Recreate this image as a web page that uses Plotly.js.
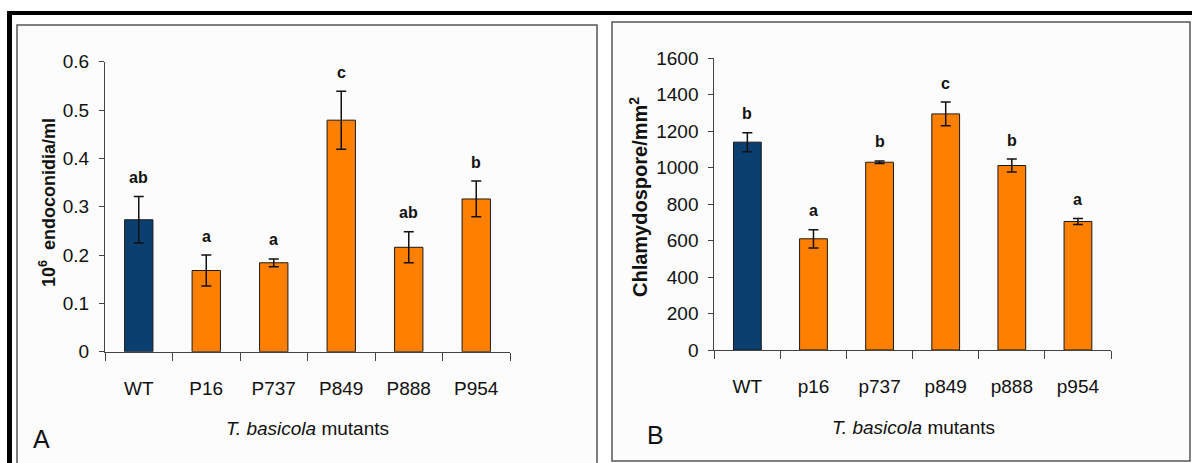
<!DOCTYPE html>
<html>
<head>
<meta charset="utf-8">
<script src="https://cdn.plot.ly/plotly-3.0.1.min.js"></script>
<style>
  html, body { margin: 0; padding: 0; background: #ffffff; }
  #chart { width: 1192px; height: 463px; }
</style>
</head>
<body>
<div id="chart"></div>
<script>
// Panel A: endoconidia production
const strainsA = ['WT', 'P16', 'P737', 'P849', 'P888', 'P954'];
const endoconidia = [0.273, 0.168, 0.184, 0.479, 0.216, 0.316];
const endoconidiaErr = [0.048, 0.032, 0.008, 0.060, 0.032, 0.037];
const lettersA = ['ab', 'a', 'a', 'c', 'ab', 'b'];

// Panel B: chlamydospore production
const strainsB = ['WT', 'p16', 'p737', 'p849', 'p888', 'p954'];
const chlamydospores = [1140, 610, 1030, 1295, 1012, 705];
const chlamydosporesErr = [52, 50, 7, 65, 35, 16];
const lettersB = ['b', 'a', 'b', 'c', 'b', 'a'];

const W = 1192, H = 463;
const px = x => x / W;
const py = y => 1 - y / H;

const FONT = '"Liberation Sans", Arial, sans-serif';
const BLUE = '#0b3f70';
const ORANGE = '#ff7f00';
const barColors = names => names.map(n => n === 'WT' ? BLUE : ORANGE);

function barTrace(x, y, err, xa, ya) {
  return {
    type: 'bar', x: x, y: y, xaxis: xa, yaxis: ya,
    marker: { color: barColors(x), line: { color: '#1a1a1a', width: 1 } },
    error_y: { type: 'data', array: err, visible: true, color: '#111111', thickness: 1.5, width: 5 },
    hoverinfo: 'x+y', showlegend: false
  };
}

const traces = [
  barTrace(strainsA, endoconidia, endoconidiaErr, 'x', 'y'),
  barTrace(strainsB, chlamydospores, chlamydosporesErr, 'x2', 'y2')
];

const xCommon = {
  type: 'category', showline: true, linecolor: '#444', linewidth: 1,
  ticks: 'outside', tickson: 'boundaries', ticklen: 8, tickcolor: '#444',
  ticklabelstandoff: 19, showgrid: false, zeroline: false, fixedrange: true,
  tickfont: { family: FONT, size: 19, color: '#111' }
};
const yCommon = {
  showline: true, linecolor: '#444', linewidth: 1,
  ticks: 'outside', ticklen: 5, tickcolor: '#444', ticklabelstandoff: 6,
  showgrid: false, zeroline: false, fixedrange: true,
  tickfont: { family: FONT, size: 19, color: '#111' }
};

function letterNotes(x, y, err, letters, xref, yref) {
  return x.map((c, i) => ({
    x: c, y: y[i] + err[i], xref: xref, yref: yref,
    text: '<b>' + letters[i] + '</b>', showarrow: false,
    xanchor: 'center', yanchor: 'middle', yshift: 19,
    font: { family: FONT, size: 16, color: '#111' }
  }));
}

// free-standing text placed in paper space, centred on the given pixel
function paperNote(x, y, text, size, angle) {
  return {
    xref: 'paper', yref: 'paper', x: px(x), y: py(y), text: text,
    textangle: angle || 0, showarrow: false, xanchor: 'center', yanchor: 'middle',
    font: { family: FONT, size: size, color: '#111' }
  };
}

const annotations = [
  ...letterNotes(strainsA, endoconidia, endoconidiaErr, lettersA, 'x', 'y'),
  ...letterNotes(strainsB, chlamydospores, chlamydosporesErr, lettersB, 'x2', 'y2'),
  paperNote(47, 203, '<b>10<sup>6</sup>  endoconidia/ml</b>', 18, -90),
  paperNote(639, 197, '<b>Chlamydospore/mm<sup>2</sup></b>', 20, -90),
  paperNote(307, 428, '<i>T. basicola</i> mutants', 19),
  paperNote(913, 427, '<i>T. basicola</i> mutants', 19),
  paperNote(41, 439, 'A', 25),
  paperNote(655, 435, 'B', 25)
];

const shapes = [
  // panel frames
  { type: 'rect', xref: 'paper', yref: 'paper', layer: 'below',
    x0: px(17), y0: py(470), x1: px(597), y1: py(25),
    line: { color: '#555', width: 1.5 }, fillcolor: '#fcfcfc' },
  { type: 'rect', xref: 'paper', yref: 'paper', layer: 'below',
    x0: px(612), y0: py(461), x1: px(1190), y1: py(22),
    line: { color: '#555', width: 1.5 }, fillcolor: '#fcfcfc' },
  // heavy outer rule
  { type: 'line', xref: 'paper', yref: 'paper',
    x0: px(7), y0: py(13), x1: px(1195), y1: py(13), line: { color: '#000', width: 4 } },
  { type: 'line', xref: 'paper', yref: 'paper',
    x0: px(9.5), y0: py(11), x1: px(9.5), y1: py(470), line: { color: '#000', width: 5 } }
];

const layout = {
  width: W, height: H,
  margin: { l: 0, r: 0, t: 0, b: 0 },
  paper_bgcolor: '#ffffff', plot_bgcolor: 'rgba(0,0,0,0)',
  bargap: 0.58, showlegend: false,
  font: { family: FONT, color: '#111' },
  xaxis: Object.assign({}, xCommon, { domain: [px(105), px(510)], anchor: 'y' }),
  yaxis: Object.assign({}, yCommon, { domain: [py(351.7), py(61.7)], range: [0, 0.6], dtick: 0.1, anchor: 'x' }),
  xaxis2: Object.assign({}, xCommon, { domain: [px(714.3), px(1111)], anchor: 'y2' }),
  yaxis2: Object.assign({}, yCommon, { domain: [py(350), py(58.3)], range: [0, 1600], dtick: 200, anchor: 'x2' }),
  annotations: annotations,
  shapes: shapes
};

Plotly.newPlot('chart', traces, layout, { staticPlot: true, displayModeBar: false });
</script>
</body>
</html>
